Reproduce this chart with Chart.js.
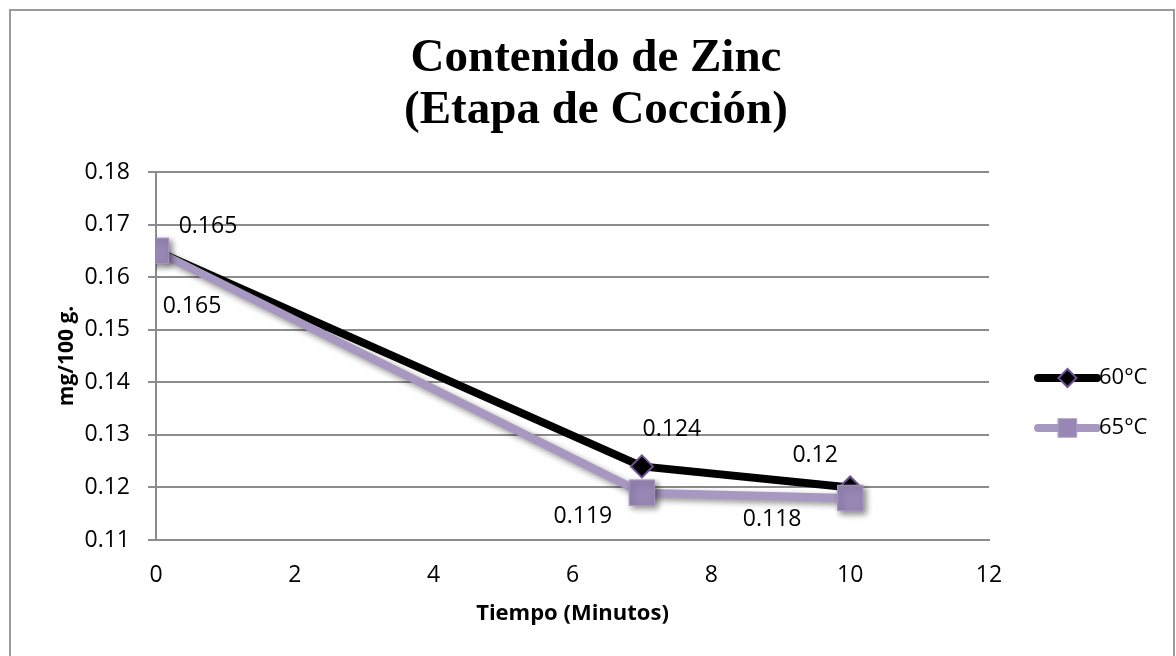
<!DOCTYPE html>
<html>
<head>
<meta charset="utf-8">
<script src="https://cdn.jsdelivr.net/npm/chart.js@4/dist/chart.umd.min.js"></script>
<style>
  html, body { margin: 0; padding: 0; background: #fff; }
  #wrap { position: relative; width: 1176px; height: 656px; overflow: hidden; }
  #frame { position: absolute; left: 9px; top: 9px; width: 1166px; height: 680px; border: 2px solid #9a9a9a; box-sizing: border-box; pointer-events: none; }
  canvas { position: absolute; left: 0; top: 0; }
</style>
</head>
<body>
<div id="wrap">
  <canvas id="c" width="1176" height="656"></canvas>
  <div id="frame"></div>
</div>
<script>
// ---- data ----
const timeMinutes = [0, 7, 10];
const series60 = [0.165, 0.124, 0.12];
const series65 = [0.165, 0.119, 0.118];
const seriesNames = ['60°C', '65°C'];
const titleLines = ['Contenido de Zinc', '(Etapa de Cocción)'];
const xAxisTitle = 'Tiempo (Minutos)';
const yAxisTitle = 'mg/100 g.';
const yTickValues = [0.11, 0.12, 0.13, 0.14, 0.15, 0.16, 0.17, 0.18];
const xTickValues = [0, 2, 4, 6, 8, 10, 12];

// label offsets (style) in pixels relative to each point
const labelOffsets60 = [[52, -24], [30, -37], [-35, -32]];
const labelOffsets65 = [[36, 56], [-59, 24], [-78, 22]];

const FONT = '"Open Sans", "DejaVu Sans", sans-serif';

function toPoints(xs, ys) { return xs.map((x, i) => ({x: x, y: ys[i]})); }

const shadowPlugin = {
  id: 'shadow',
  beforeDatasetDraw(chart, args) {
    const ds = chart.data.datasets[args.index];
    if (ds.shadow) {
      const ctx = chart.ctx;
      ctx.save();
      ctx.shadowColor = 'rgba(0,0,0,0.45)';
      ctx.shadowBlur = 6;
      ctx.shadowOffsetX = 3;
      ctx.shadowOffsetY = 3;
    }
  },
  afterDatasetDraw(chart, args) {
    const ds = chart.data.datasets[args.index];
    if (ds.shadow) chart.ctx.restore();
  }
};

const labelPlugin = {
  id: 'pointLabels',
  afterDatasetsDraw(chart) {
    const ctx = chart.ctx;
    ctx.save();
    ctx.font = '23px ' + FONT;
    ctx.fillStyle = '#000';
    ctx.textAlign = 'center';
    ctx.textBaseline = 'middle';
    chart.data.datasets.forEach((ds, di) => {
      const meta = chart.getDatasetMeta(di);
      meta.data.forEach((pt, i) => {
        const off = ds.labelOffsets[i];
        ctx.fillText(String(ds.data[i].y), pt.x + off[0], pt.y + off[1]);
      });
    });
    ctx.restore();
  }
};

const legendPlugin = {
  id: 'customLegend',
  afterDraw(chart) {
    const ctx = chart.ctx;
    const x0 = 1038, x1 = 1097, y0 = 378, gap = 50;
    chart.data.datasets.forEach((ds, i) => {
      const y = y0 + i * gap;
      ctx.save();
      ctx.lineCap = 'round';
      ctx.strokeStyle = ds.borderColor;
      ctx.lineWidth = ds.borderWidth;
      ctx.beginPath();
      ctx.moveTo(x0, y);
      ctx.lineTo(x1, y);
      ctx.stroke();
      ctx.fillStyle = ds.pointBackgroundColor;
      ctx.strokeStyle = ds.pointBorderColor;
      ctx.lineWidth = ds.pointBorderWidth;
      Chart.helpers.drawPoint(ctx, {pointStyle: ds.pointStyle, radius: ds.legendRadius, rotation: 0, borderWidth: ds.pointBorderWidth}, (x0 + x1) / 2, y);
      ctx.restore();
    });
    ctx.save();
    ctx.font = '22px ' + FONT;
    ctx.fillStyle = '#000';
    ctx.textAlign = 'left';
    ctx.textBaseline = 'middle';
    chart.data.datasets.forEach((ds, i) => {
      ctx.fillText(ds.label, 1099, y0 + i * gap);
    });
    ctx.restore();
  }
};

new Chart(document.getElementById('c'), {
  type: 'line',
  data: {
    datasets: [
      {
        label: seriesNames[0],
        data: toPoints(timeMinutes, series60),
        borderColor: '#000000',
        borderWidth: 8,
        pointStyle: 'rectRot',
        pointRadius: 11,
        pointBackgroundColor: '#000000',
        pointBorderColor: '#6B5298',
        pointBorderWidth: 2,
        legendRadius: 9,
        order: 2,
        shadow: false,
        labelOffsets: labelOffsets60
      },
      {
        label: seriesNames[1],
        data: toPoints(timeMinutes, series65),
        borderColor: '#A798C2',
        borderWidth: 8,
        pointStyle: 'rect',
        pointRadius: 18,
        pointBackgroundColor: '#9886B4',
        pointBorderColor: '#A798C2',
        pointBorderWidth: 1,
        legendRadius: 13,
        order: 1,
        shadow: true,
        labelOffsets: labelOffsets65
      }
    ]
  },
  options: {
    responsive: false,
    animation: false,
    events: [],
    layout: { padding: { left: 50, right: 34, top: 0, bottom: 25 } },
    plugins: {
      legend: { display: false },
      tooltip: { enabled: false },
      title: {
        display: true,
        text: titleLines,
        color: '#000',
        font: { family: '"Liberation Serif", "Times New Roman", serif', size: 47, weight: 'bold', lineHeight: 1.106 },
        padding: { top: 33, bottom: 35 }
      }
    },
    scales: {
      x: {
        type: 'linear',
        min: 0, max: 12,
        afterBuildTicks(scale) { scale.ticks = xTickValues.map(v => ({value: v})); },
        afterFit(scale) { scale.height = 91; },
        ticks: { color: '#000', font: { family: FONT, size: 23 }, padding: 22, callback: v => String(v) },
        grid: { display: true, drawOnChartArea: false, drawTicks: false },
        border: { display: true, color: '#8c8c8c', width: 2 },
        title: { display: true, text: xAxisTitle, color: '#000', font: { family: FONT, size: 22, weight: 'bold' }, padding: { top: 4, bottom: 4 } }
      },
      y: {
        type: 'linear',
        position: 'left',
        min: 0.11, max: 0.18,
        afterBuildTicks(scale) { scale.ticks = yTickValues.map(v => ({value: v})); },
        afterFit(scale) { scale.width = 106; },
        ticks: { color: '#000', font: { family: FONT, size: 23 }, padding: 18, callback: v => v.toFixed(2) },
        grid: { color: '#8c8c8c', lineWidth: 2, tickLength: 8, drawTicks: true },
        border: { display: true, color: '#8c8c8c', width: 2 },
        title: { display: true, text: yAxisTitle, color: '#000', font: { family: FONT, size: 21, weight: 'bold' }, padding: { top: 4, bottom: 4 } }
      },
      legendSpace: {
        type: 'linear',
        position: 'right',
        display: true,
        min: 0, max: 1,
        afterFit(scale) { scale.width = 153; },
        ticks: { display: false },
        grid: { display: false, drawOnChartArea: false, drawTicks: false },
        border: { display: false }
      }
    }
  },
  plugins: [shadowPlugin, labelPlugin, legendPlugin]
});
</script>
</body>
</html>
